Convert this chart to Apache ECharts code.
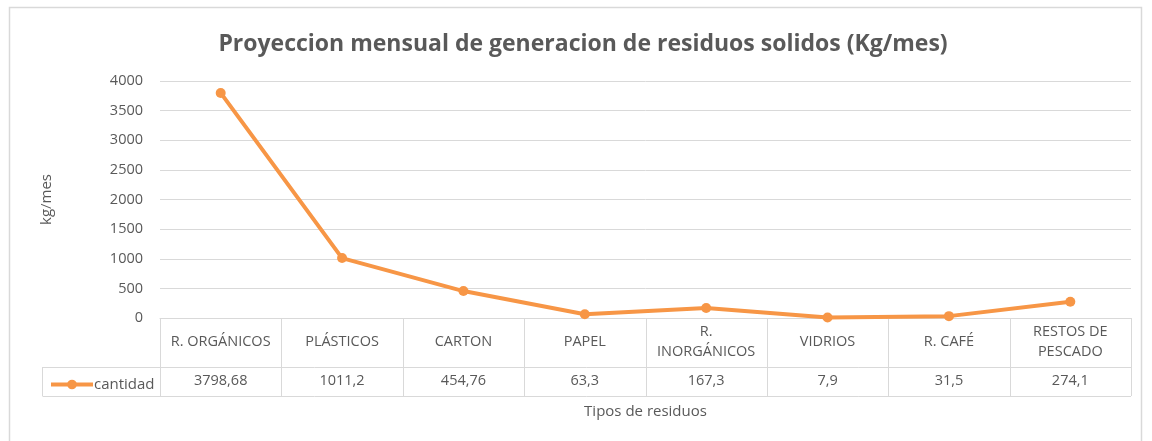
<!DOCTYPE html>
<html><head><meta charset="utf-8">
<script src="https://cdn.jsdelivr.net/npm/echarts@6/dist/echarts.min.js"></script>
<style>html,body{margin:0;padding:0;background:#fff}#c{width:1152px;height:441px}</style>
</head><body><div id="c"></div>
<script>
const categories = ['R. ORGÁNICOS','PLÁSTICOS','CARTON','PAPEL','R.\nINORGÁNICOS','VIDRIOS','R. CAFÉ','RESTOS DE\nPESCADO'];
const values = [3798.68, 1011.2, 454.76, 63.3, 167.3, 7.9, 31.5, 274.1];
const seriesName = 'cantidad';
const valueLabels = values.map(v => String(v).replace('.', ','));
const FONT = '"Open Sans", "Liberation Sans", sans-serif';
const TXT = '#595959';
const GRIDC = '#d9d9d9';
const ORANGE = '#F79646';

const chart = echarts.init(document.getElementById('c'));
chart.setOption({
  animation: false,
  textStyle: { fontFamily: FONT, color: TXT },
  title: { text: 'Proyeccion mensual de generacion de residuos solidos (Kg/mes)', left: 578, textAlign: 'center', top: 28,
    textStyle: { fontFamily: FONT, fontSize: 23, fontWeight: 'bold', color: TXT } },
  legend: { left: 44, top: 372, itemWidth: 42, itemHeight: 12, itemGap: 0,
    lineStyle: { width: 4 },
    textStyle: { fontFamily: FONT, fontSize: 15, color: TXT, padding: [0,0,0,-4] }, data: [seriesName] },
  grid: { left: 160, right: 21, top: 81, bottom: 123 },
  xAxis: [
    { type: 'category', data: categories, boundaryGap: true, name: 'Tipos de residuos',
      nameLocation: 'middle', nameGap: 86, nameTextStyle: { fontFamily: FONT, fontSize: 15, color: TXT },
      axisLine: { lineStyle: { color: GRIDC } }, axisTick: { show: false },
      axisLabel: { interval: 0, margin: 24, verticalAlign: 'middle', lineHeight: 20, fontFamily: FONT, fontSize: 14.5, color: TXT } },
    { type: 'category', data: valueLabels, position: 'bottom', boundaryGap: true,
      axisLine: { show: false }, axisTick: { show: false },
      axisLabel: { interval: 0, margin: 63, verticalAlign: 'middle', fontFamily: FONT, fontSize: 14.5, color: TXT } }
  ],
  yAxis: { type: 'value', min: 0, max: 4000, interval: 500, name: 'kg/mes', nameLocation: 'middle', nameGap: 106,
    nameTextStyle: { fontFamily: FONT, fontSize: 15, color: TXT },
    axisLine: { show: false }, axisTick: { show: false },
    axisLabel: { margin: 17, fontFamily: FONT, fontSize: 14.5, color: TXT, formatter: v => String(v) },
    splitLine: { lineStyle: { color: GRIDC, width: 1 } } },
  series: [{ name: seriesName, type: 'line', data: values, xAxisIndex: 0,
    symbol: 'circle', symbolSize: 10, lineStyle: { color: ORANGE, width: 4 },
    itemStyle: { color: ORANGE } }]
});

// table lines
const c0 = chart.convertToPixel({ xAxisIndex: 0 }, 0);
const c1 = chart.convertToPixel({ xAxisIndex: 0 }, 1);
const bw = c1 - c0;
const x0 = c0 - bw / 2;
const yTop = chart.convertToPixel({ yAxisIndex: 0 }, 0);
const yMid = yTop + 49, yBot = yTop + 78;
const xEnd = x0 + bw * categories.length;
const els = [];
const ls = { stroke: GRIDC, lineWidth: 1 };
for (let i = 0; i <= categories.length; i++) {
  const x = Math.round(x0 + i * bw) + 0.5;
  els.push({ type: 'line', shape: { x1: x, y1: yTop, x2: x, y2: yBot }, style: ls, silent: true });
}
els.push({ type: 'line', shape: { x1: 42.5, y1: yMid + 0.5, x2: xEnd, y2: yMid + 0.5 }, style: ls, silent: true });
els.push({ type: 'line', shape: { x1: 42.5, y1: yBot + 0.5, x2: xEnd, y2: yBot + 0.5 }, style: ls, silent: true });
els.push({ type: 'line', shape: { x1: 42.5, y1: yMid, x2: 42.5, y2: yBot }, style: ls, silent: true });
els.push({ type: 'rect', shape: { x: 9.5, y: 7.5, width: 1132, height: 440 }, style: { fill: 'none', stroke: GRIDC, lineWidth: 1.5 }, silent: true, z: -1 });
chart.setOption({ graphic: els });
</script></body></html>
